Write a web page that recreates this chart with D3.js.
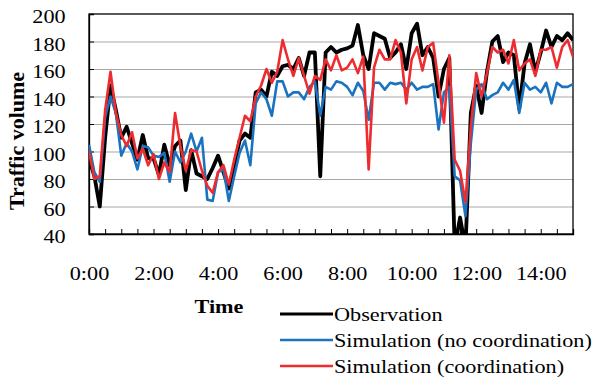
<!DOCTYPE html>
<html>
<head>
<meta charset="utf-8">
<script src="https://cdn.jsdelivr.net/npm/d3@7"></script>
<style>
  body { margin: 0; background: #fff; }
</style>
</head>
<body>
<svg id="chart" width="603" height="380"></svg>
<script>
// 10-minute samples from 0:00 to 15:00
const stepMinutes = 10;

const observation = [
  95, 82, 60, 110, 148, 130,
  110, 118, 106, 94, 112, 95,
  95, 83, 105, 90, 104, 108,
  72, 101, 84, 82, 80, 88,
  97, 85, 73, 89, 108, 113,
  110, 143, 145, 140, 158, 155,
  162, 163, 160, 168, 155, 172,
  172, 82, 172, 176, 172, 174,
  175, 177, 192, 170, 160, 186,
  184, 182, 168, 172, 178, 160,
  186, 193, 170, 176, 168, 140,
  160, 168, 30, 52, 30, 128,
  148, 128, 158, 180, 184, 165,
  172, 170, 131, 164, 178, 158,
  172, 188, 176, 184, 181, 186,
  181
];

const simNoCoord = [
  105, 85, 78, 125, 140, 128,
  97, 106, 100, 87, 104, 103,
  97, 96, 99, 78, 100, 92,
  100, 113, 100, 110, 65, 64,
  85, 87, 64, 82, 99, 108,
  90, 135, 143, 138, 126, 151,
  151, 140, 143, 143, 138, 147,
  151, 126, 147, 145, 151, 150,
  147, 141, 150, 144, 123, 150,
  150, 145, 150, 149, 150, 145,
  150, 145, 147, 147, 149, 116,
  143, 147, 82, 79, 53, 106,
  145, 149, 138, 141, 143, 150,
  145, 152, 128, 150, 145, 147,
  143, 150, 135, 150, 147, 147,
  149
];

const simCoord = [
  100, 80, 82, 130, 158, 128,
  112, 104, 114, 95, 102, 90,
  98, 80, 92, 85, 128, 104,
  86, 101, 100, 86, 75, 70,
  85, 90, 76, 94, 110, 126,
  122, 140, 148, 160, 150, 158,
  181, 167, 155, 168, 155, 142,
  155, 152, 167, 159, 170, 159,
  161, 167, 157, 169, 87, 161,
  174, 167, 167, 181, 172, 135,
  167, 176, 159, 176, 179, 150,
  121, 170, 94, 86, 63, 118,
  157, 140, 157, 176, 172, 174,
  164, 181, 159, 164, 167, 155,
  174, 174, 176, 161, 176, 181,
  169
];

const yTicks = [40, 60, 80, 100, 120, 140, 160, 180, 200];
const xLabelHours = [0, 2, 4, 6, 8, 10, 12, 14];

const seriesNames = ['Observation', 'Simulation (no coordination)', 'Simulation (coordination)'];

const serif = '"Liberation Serif", "Times New Roman", "DejaVu Serif", serif';

const svg = d3.select('#chart').attr('font-family', serif);
const margin = { top: 14, left: 89 };
const chartWidth = 484;
const chartHeight = 220;
const stretch = 'scale(1.17,1)';

const x = d3.scaleLinear().domain([0, 900]).range([0, chartWidth]);
const y = d3.scaleLinear().domain([40, 200]).range([chartHeight, 0]);

const g = svg.append('g').attr('transform', `translate(${margin.left},${margin.top})`);

g.append('clipPath').attr('id', 'plot-clip')
  .append('rect').attr('width', chartWidth).attr('height', chartHeight);

// gridlines
g.append('g')
  .call(d3.axisLeft(y).tickValues(yTicks.slice(1, -1)).tickSize(-chartWidth).tickFormat(''))
  .call((a) => a.select('.domain').remove())
  .selectAll('line').attr('stroke', '#a8a8a8').attr('stroke-width', 1.2);

// Y axis
const yAxis = g.append('g')
  .call(d3.axisLeft(y).tickValues(yTicks).tickSize(-5).tickPadding(20))
  .attr('font-family', serif);
yAxis.selectAll('text')
  .attr('font-size', 19)
  .attr('font-family', serif)
  .attr('fill', '#000')
  .attr('dy', '0.45em')
  .attr('transform', stretch);
yAxis.select('.domain').attr('stroke', '#000').attr('stroke-width', 1.3);

// X axis
const xTicks = d3.range(0, 901, 30);
const xAxis = g.append('g')
  .attr('transform', `translate(0,${chartHeight})`)
  .call(d3.axisBottom(x)
    .tickValues(xTicks)
    .tickSize(-5)
    .tickPadding(33)
    .tickFormat((m) => (m % 60 === 0 && xLabelHours.includes(m / 60)) ? `${m / 60}:00` : ''))
  .attr('font-family', serif);
xAxis.selectAll('text')
  .attr('font-size', 19)
  .attr('font-family', serif)
  .attr('fill', '#000')
  .attr('transform', stretch);
xAxis.select('.domain').attr('stroke', '#000').attr('stroke-width', 1.3);

// top and right border
g.append('rect')
  .attr('width', chartWidth).attr('height', chartHeight)
  .attr('fill', 'none').attr('stroke', '#000').attr('stroke-width', 1.3);

// lines
const line = d3.line()
  .x((d, i) => x(i * stepMinutes))
  .y((d) => y(d));

const series = [
  { data: observation, color: '#000000', width: 3.8 },
  { data: simNoCoord, color: '#1b73c0', width: 2.6 },
  { data: simCoord, color: '#ee2b2e', width: 2.6 },
];

const lines = g.append('g').attr('clip-path', 'url(#plot-clip)');
series.forEach((s) => {
  lines.append('path')
    .datum(s.data)
    .attr('fill', 'none')
    .attr('stroke', s.color)
    .attr('stroke-width', s.width)
    .attr('stroke-linejoin', 'round')
    .attr('d', line);
});

// axis titles
svg.append('text')
  .attr('transform', `translate(${219},${313}) ${stretch}`)
  .attr('text-anchor', 'middle')
  .attr('font-size', 19)
  .attr('font-weight', 'bold')
  .text('Time');

svg.append('text')
  .attr('transform', `translate(${24},${141}) rotate(-90)`)
  .attr('text-anchor', 'middle')
  .attr('font-size', 20)
  .attr('font-weight', 'bold')
  .attr('textLength', 138)
  .attr('lengthAdjust', 'spacingAndGlyphs')
  .text('Traffic volume');

// legend
const legend = svg.append('g').attr('transform', 'translate(280,314)');
seriesNames.forEach((name, i) => {
  const row = legend.append('g').attr('transform', `translate(0,${i * 26})`);
  row.append('line')
    .attr('x1', 0).attr('x2', 53)
    .attr('stroke', series[i].color)
    .attr('stroke-width', i === 0 ? 3.2 : 2.4);
  row.append('text')
    .attr('transform', `translate(54,0) ${stretch}`)
    .attr('dy', '0.36em')
    .attr('font-size', 19)
    .text(name);
});
</script>
</body>
</html>
